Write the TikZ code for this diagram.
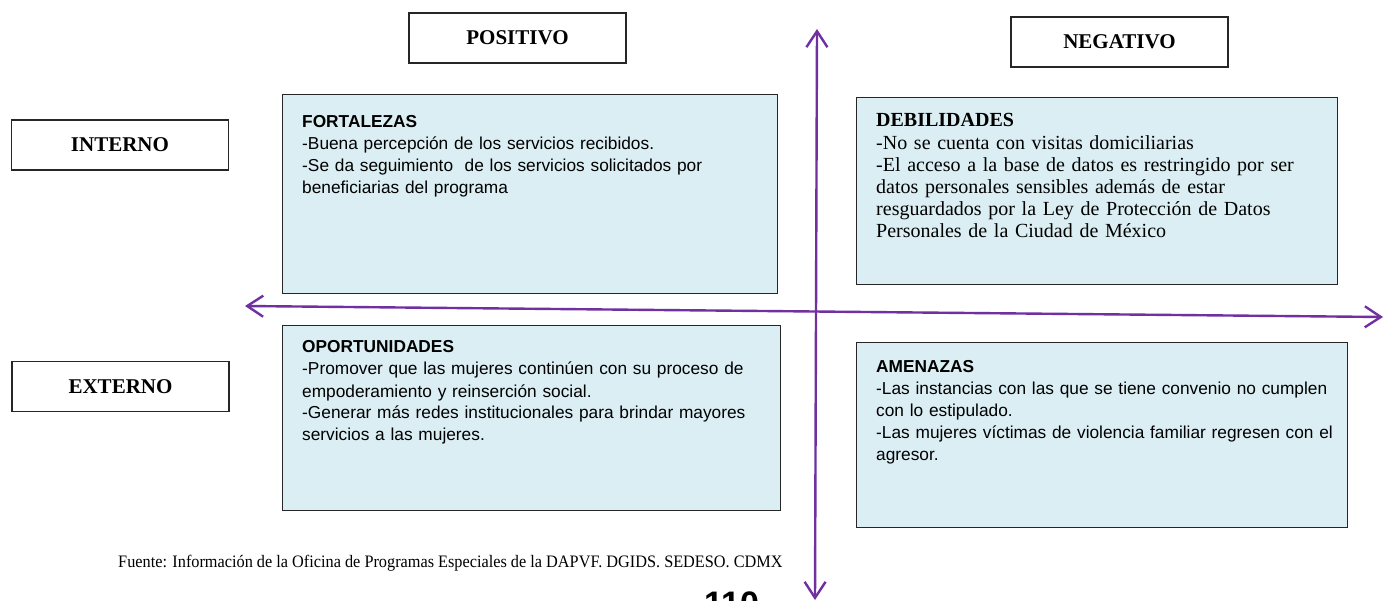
\documentclass[tikz,border=0pt]{standalone}
\usepackage{fontspec}
\setmainfont{Liberation Serif}
\setsansfont{Liberation Sans}
\newfontfamily\footserif[FakeStretch=0.93]{Liberation Serif}
\usetikzlibrary{arrows.meta}
\definecolor{boxblue}{HTML}{DAEEF3}
\definecolor{axispurple}{HTML}{7030A0}
\begin{document}
\begin{tikzpicture}[x=1pt,y=-1pt,
  quad/.style={draw=black!85, line width=1.2pt, fill=boxblue, anchor=north west, inner sep=0pt},
  label/.style={draw=black!85, line width=1.2pt, fill=white, minimum width=217pt, minimum height=50pt, inner sep=0pt,
    font=\bfseries\fontsize{21}{24}\selectfont},
  sanstext/.style={anchor=base west, inner sep=0pt, text width=460pt, align=left,
    font=\sffamily\fontsize{17.3}{22}\selectfont},
  seriftext/.style={anchor=base west, inner sep=0pt, text width=450pt, align=left,
    font=\fontsize{20}{22.2}\selectfont},
  axis/.style={draw=axispurple, line width=2.4pt,
    {Straight Barb[length=16pt,width=21pt,line width=2.4pt]}-{Straight Barb[length=16pt,width=21pt,line width=2.4pt]}}
]
\useasboundingbox (0,0) rectangle (1384,601);
\fill[white] (0,0) rectangle (1384,601);

% label boxes
\node[label] (pos) at (517.5,38) {POSITIVO};
\node[label] (neg) at (1119.5,42) {NEGATIVO};
\node[label] (int) at (120,145) {INTERNO};
\node[label] (ext) at (120.5,386.5) {EXTERNO};

% quadrant boxes
\node[quad, minimum width=495pt, minimum height=199pt] (fbox) at (282,94) {};
\node[quad, minimum width=481pt, minimum height=187pt] (dbox) at (856,97) {};
\node[quad, minimum width=498pt, minimum height=185pt] (obox) at (282,325) {};
\node[quad, minimum width=491pt, minimum height=185pt] (abox) at (856,342) {};

\node[sanstext] (ftext) at (302,128) {\textbf{FORTALEZAS}\\
-Buena percepción de los servicios recibidos.\\
-Se da seguimiento\ \ de los servicios solicitados por\\
beneficiarias del programa};

\node[seriftext] (dtext) at (876,127) {\textbf{DEBILIDADES}\\
-No se cuenta con visitas domiciliarias\\
-El acceso a la base de datos es restringido por ser\\
datos personales sensibles además de estar\\
resguardados por la Ley de Protección de Datos\\
Personales de la Ciudad de México};

\node[sanstext] (otext) at (302,353) {\textbf{OPORTUNIDADES}\\
-Promover que las mujeres continúen con su proceso de\\
empoderamiento y reinserción social.\\
-Generar más redes institucionales para brindar mayores\\
servicios a las mujeres.};

\node[sanstext] (atext) at (876,373) {\textbf{AMENAZAS}\\
-Las instancias con las que se tiene convenio no cumplen\\
con lo estipulado.\\
-Las mujeres víctimas de violencia familiar regresen con el\\
agresor.};

% footer
\node[anchor=base west, inner sep=0pt, font=\footserif\fontsize{17.5}{20}\selectfont] (src) at (118,567)
  {Fuente: Información de la Oficina de Programas Especiales de la DAPVF. DGIDS. SEDESO. CDMX};
\node[anchor=base west, inner sep=0pt, font=\sffamily\bfseries\fontsize{34}{38}\selectfont] (page) at (704,615) {110};

% axes
\coordinate (vtop) at (817,29);
\coordinate (vbot) at (815,600);
\coordinate (hleft) at (245,306);
\coordinate (hright) at (1383,317);
\draw[axis] (vbot) -- (vtop);
\draw[axis] (hleft) -- (hright);
\end{tikzpicture}
\end{document}
